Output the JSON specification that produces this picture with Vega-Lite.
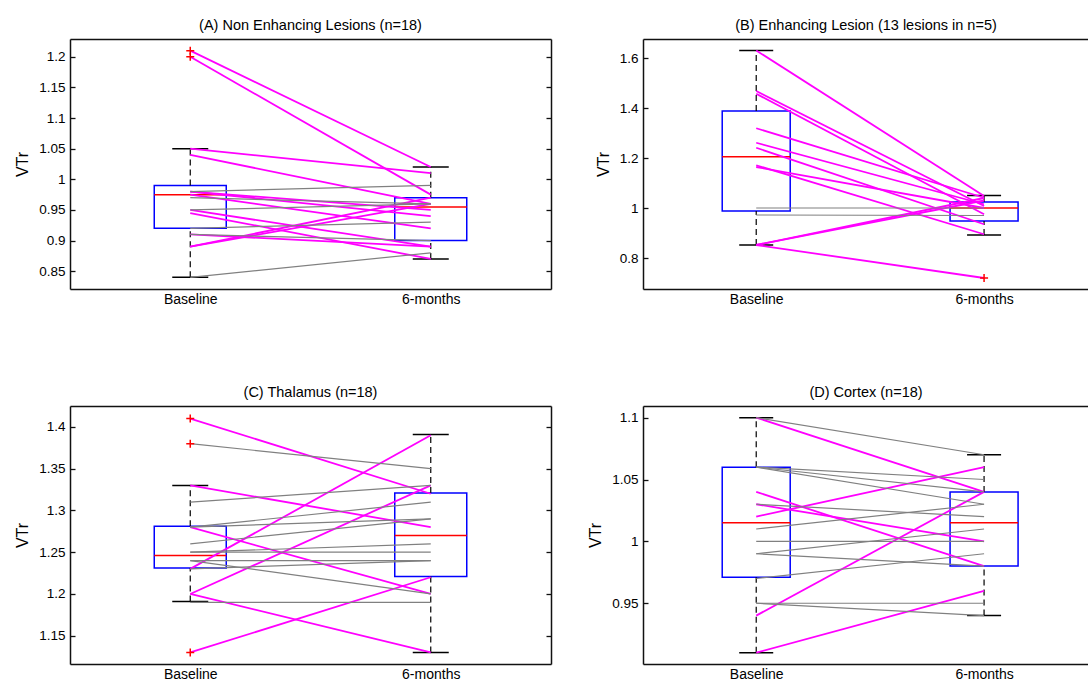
{
  "$schema": "https://vega.github.io/schema/vega-lite/v6.json",
  "background": "white",
  "padding": {"left": 14, "top": 17, "right": 0, "bottom": 0},
  "autosize": {"type": "pad"},
  "datasets": {
    "lines": [
      {"p":"A","id":1,"k":"c","Baseline":1.21,"6-months":1.02},
      {"p":"A","id":2,"k":"c","Baseline":1.20,"6-months":0.975},
      {"p":"A","id":3,"k":"c","Baseline":1.05,"6-months":1.01},
      {"p":"A","id":4,"k":"c","Baseline":1.04,"6-months":0.96},
      {"p":"A","id":5,"k":"c","Baseline":0.98,"6-months":0.95},
      {"p":"A","id":6,"k":"c","Baseline":0.98,"6-months":0.94},
      {"p":"A","id":7,"k":"c","Baseline":0.975,"6-months":0.92},
      {"p":"A","id":8,"k":"c","Baseline":0.95,"6-months":0.89},
      {"p":"A","id":9,"k":"c","Baseline":0.945,"6-months":0.87},
      {"p":"A","id":10,"k":"c","Baseline":0.91,"6-months":0.89},
      {"p":"A","id":11,"k":"c","Baseline":0.89,"6-months":0.97},
      {"p":"A","id":12,"k":"c","Baseline":0.89,"6-months":0.96},
      {"p":"A","id":13,"k":"s","Baseline":0.98,"6-months":0.99},
      {"p":"A","id":14,"k":"s","Baseline":0.97,"6-months":0.96},
      {"p":"A","id":15,"k":"s","Baseline":0.95,"6-months":0.96},
      {"p":"A","id":16,"k":"s","Baseline":0.92,"6-months":0.93},
      {"p":"A","id":17,"k":"s","Baseline":0.91,"6-months":0.90},
      {"p":"A","id":18,"k":"s","Baseline":0.84,"6-months":0.88},
      {"p":"B","id":1,"k":"c","Baseline":1.63,"6-months":1.048},
      {"p":"B","id":2,"k":"c","Baseline":1.468,"6-months":1.008},
      {"p":"B","id":3,"k":"c","Baseline":1.457,"6-months":0.975},
      {"p":"B","id":4,"k":"c","Baseline":1.319,"6-months":1.041},
      {"p":"B","id":5,"k":"c","Baseline":1.261,"6-months":1.015},
      {"p":"B","id":6,"k":"c","Baseline":1.241,"6-months":0.935},
      {"p":"B","id":7,"k":"c","Baseline":1.171,"6-months":0.895},
      {"p":"B","id":8,"k":"c","Baseline":1.164,"6-months":1.0},
      {"p":"B","id":9,"k":"c","Baseline":0.852,"6-months":1.03},
      {"p":"B","id":10,"k":"c","Baseline":0.852,"6-months":1.04},
      {"p":"B","id":11,"k":"c","Baseline":0.852,"6-months":0.72},
      {"p":"B","id":12,"k":"s","Baseline":1.0,"6-months":1.0},
      {"p":"B","id":13,"k":"s","Baseline":0.972,"6-months":0.97},
      {"p":"C","id":1,"k":"c","Baseline":1.41,"6-months":1.32},
      {"p":"C","id":2,"k":"c","Baseline":1.33,"6-months":1.28},
      {"p":"C","id":3,"k":"c","Baseline":1.28,"6-months":1.20},
      {"p":"C","id":4,"k":"c","Baseline":1.23,"6-months":1.39},
      {"p":"C","id":5,"k":"c","Baseline":1.20,"6-months":1.33},
      {"p":"C","id":6,"k":"c","Baseline":1.20,"6-months":1.13},
      {"p":"C","id":7,"k":"c","Baseline":1.13,"6-months":1.22},
      {"p":"C","id":8,"k":"s","Baseline":1.38,"6-months":1.35},
      {"p":"C","id":9,"k":"s","Baseline":1.31,"6-months":1.33},
      {"p":"C","id":10,"k":"s","Baseline":1.28,"6-months":1.31},
      {"p":"C","id":11,"k":"s","Baseline":1.28,"6-months":1.29},
      {"p":"C","id":12,"k":"s","Baseline":1.26,"6-months":1.29},
      {"p":"C","id":13,"k":"s","Baseline":1.25,"6-months":1.26},
      {"p":"C","id":14,"k":"s","Baseline":1.25,"6-months":1.25},
      {"p":"C","id":15,"k":"s","Baseline":1.24,"6-months":1.24},
      {"p":"C","id":16,"k":"s","Baseline":1.24,"6-months":1.20},
      {"p":"C","id":17,"k":"s","Baseline":1.23,"6-months":1.24},
      {"p":"C","id":18,"k":"s","Baseline":1.19,"6-months":1.19},
      {"p":"D","id":1,"k":"c","Baseline":1.10,"6-months":1.04},
      {"p":"D","id":2,"k":"c","Baseline":1.04,"6-months":0.98},
      {"p":"D","id":3,"k":"c","Baseline":1.03,"6-months":1.00},
      {"p":"D","id":4,"k":"c","Baseline":1.02,"6-months":1.06},
      {"p":"D","id":5,"k":"c","Baseline":0.94,"6-months":1.04},
      {"p":"D","id":6,"k":"c","Baseline":0.91,"6-months":0.96},
      {"p":"D","id":7,"k":"s","Baseline":1.10,"6-months":1.07},
      {"p":"D","id":8,"k":"s","Baseline":1.06,"6-months":1.05},
      {"p":"D","id":9,"k":"s","Baseline":1.06,"6-months":1.03},
      {"p":"D","id":10,"k":"s","Baseline":1.06,"6-months":1.04},
      {"p":"D","id":11,"k":"s","Baseline":1.03,"6-months":1.02},
      {"p":"D","id":12,"k":"s","Baseline":1.01,"6-months":1.03},
      {"p":"D","id":13,"k":"s","Baseline":1.00,"6-months":1.00},
      {"p":"D","id":14,"k":"s","Baseline":0.99,"6-months":1.01},
      {"p":"D","id":15,"k":"s","Baseline":0.99,"6-months":0.98},
      {"p":"D","id":16,"k":"s","Baseline":0.97,"6-months":0.99},
      {"p":"D","id":17,"k":"s","Baseline":0.95,"6-months":0.95},
      {"p":"D","id":18,"k":"s","Baseline":0.95,"6-months":0.94}
    ],
    "stats": [
      {"p":"A","time":"Baseline","q1":0.92,"med":0.975,"q3":0.99,"wlo":0.84,"whi":1.05},
      {"p":"A","time":"6-months","q1":0.90,"med":0.955,"q3":0.97,"wlo":0.87,"whi":1.02},
      {"p":"B","time":"Baseline","q1":0.988,"med":1.205,"q3":1.388,"wlo":0.852,"whi":1.63},
      {"p":"B","time":"6-months","q1":0.948,"med":1.0,"q3":1.024,"wlo":0.892,"whi":1.05},
      {"p":"C","time":"Baseline","q1":1.231,"med":1.246,"q3":1.281,"wlo":1.191,"whi":1.33},
      {"p":"C","time":"6-months","q1":1.221,"med":1.27,"q3":1.321,"wlo":1.13,"whi":1.391},
      {"p":"D","time":"Baseline","q1":0.971,"med":1.015,"q3":1.06,"wlo":0.91,"whi":1.10},
      {"p":"D","time":"6-months","q1":0.98,"med":1.015,"q3":1.04,"wlo":0.94,"whi":1.07}
    ],
    "outliers": [
      {"p":"A","time":"Baseline","v":1.21},
      {"p":"A","time":"Baseline","v":1.20},
      {"p":"B","time":"6-months","v":0.72},
      {"p":"C","time":"Baseline","v":1.41},
      {"p":"C","time":"Baseline","v":1.38},
      {"p":"C","time":"Baseline","v":1.13}
    ]
  },
  "columns": 2,
  "spacing": {"row": 117, "column": 92},
  "bounds": "flush",
  "concat": [
    {
      "width": 481, "height": 250,
      "title": {"text": "(A) Non Enhancing Lesions (n=18)"},
      "encoding": {"x": {"field": "time", "type": "ordinal", "scale": {"type": "point", "domain": ["Baseline","6-months"], "padding": 0.5}, "axis": null}},
      "layer": [
        {"data": {"name": "stats"}, "transform": [{"filter": "datum.p==='A'"}],
         "mark": {"type": "bar", "width": 72, "fill": "#ffffff", "fillOpacity": 0, "stroke": "#0000ff", "strokeWidth": 1.5},
         "encoding": {
           "x": {"field": "time", "type": "ordinal", "scale": {"type": "point", "domain": ["Baseline","6-months"], "padding": 0.5}, "axis": {"orient": "bottom", "ticks": false, "labelPadding": 3, "labelFontSize": 14, "labelAngle": 0, "title": null}},
           "y": {"field": "q1", "type": "quantitative", "scale": {"domain": [0.821, 1.229], "nice": false, "zero": false}, "axis": {"orient": "left", "values": [0.85,0.9,0.95,1,1.05,1.1,1.15,1.2], "format": ".3~f", "tickSize": -5, "labelPadding": 10, "labelFontSize": 13.5, "title": "VTr", "titleFontSize": 16, "titlePadding": 8}},
           "y2": {"field": "q3"}}},
        {"data": {"name": "stats"}, "transform": [{"filter": "datum.p==='A'"}],
         "mark": {"type": "rule", "color": "#000000", "strokeDash": [6,4], "strokeWidth": 1.2},
         "encoding": {
           "x": {"field": "time", "type": "ordinal", "scale": {"type": "point", "domain": ["Baseline","6-months"], "padding": 0.5}, "axis": {"orient": "top", "ticks": false, "labels": false, "title": null}},
           "y": {"field": "q3", "type": "quantitative", "scale": {"domain": [0.821, 1.229], "nice": false, "zero": false}, "axis": {"orient": "right", "values": [0.85,0.9,0.95,1,1.05,1.1,1.15,1.2], "labels": false, "tickSize": -5, "title": null}},
           "y2": {"field": "whi"}}},
        {"data": {"name": "stats"}, "transform": [{"filter": "datum.p==='A'"}],
         "mark": {"type": "rule", "color": "#000000", "strokeDash": [6,4], "strokeWidth": 1.2},
         "encoding": {
           "y": {"field": "wlo", "type": "quantitative", "scale": {"domain": [0.821, 1.229], "nice": false, "zero": false}, "axis": null},
           "y2": {"field": "q1"}}},
        {"data": {"name": "stats"}, "transform": [{"filter": "datum.p==='A'"}],
         "mark": {"type": "tick", "orient": "horizontal", "size": 36, "thickness": 1.5, "color": "#000000", "opacity": 1},
         "encoding": {"y": {"field": "whi", "type": "quantitative", "scale": {"domain": [0.821, 1.229], "nice": false, "zero": false}, "axis": null}}},
        {"data": {"name": "stats"}, "transform": [{"filter": "datum.p==='A'"}],
         "mark": {"type": "tick", "orient": "horizontal", "size": 36, "thickness": 1.5, "color": "#000000", "opacity": 1},
         "encoding": {"y": {"field": "wlo", "type": "quantitative", "scale": {"domain": [0.821, 1.229], "nice": false, "zero": false}, "axis": null}}},
        {"data": {"name": "stats"}, "transform": [{"filter": "datum.p==='A'"}],
         "mark": {"type": "tick", "orient": "horizontal", "size": 72, "thickness": 1.5, "color": "#ff0000", "opacity": 1},
         "encoding": {"y": {"field": "med", "type": "quantitative", "scale": {"domain": [0.821, 1.229], "nice": false, "zero": false}, "axis": null}}},
        {"data": {"name": "lines"}, "transform": [{"filter": "datum.p==='A'"}, {"fold": ["Baseline","6-months"], "as": ["time","value"]}],
         "mark": {"type": "line"},
         "encoding": {
           "y": {"field": "value", "type": "quantitative", "scale": {"domain": [0.821, 1.229], "nice": false, "zero": false}, "axis": null},
           "color": {"field": "k", "type": "nominal", "scale": {"domain": ["c","s"], "range": ["#ff00ff","#808080"]}, "legend": null},
           "strokeWidth": {"field": "k", "type": "nominal", "scale": {"domain": ["c","s"], "range": [1.8, 1.2]}, "legend": null},
           "detail": {"field": "id", "type": "nominal"}}},
        {"data": {"name": "outliers"}, "transform": [{"filter": "datum.p==='A'"}],
         "mark": {"type": "point", "shape": "M-1,0L1,0M0,-1L0,1", "size": 64, "filled": false, "color": "#ff0000", "strokeWidth": 1.5, "opacity": 1},
         "encoding": {"y": {"field": "v", "type": "quantitative", "scale": {"domain": [0.821, 1.229], "nice": false, "zero": false}, "axis": null}}}
      ],
      "resolve": {"axis": {"x": "independent", "y": "independent"}}
    },
    {
      "width": 446, "height": 250,
      "title": {"text": "(B) Enhancing Lesion (13 lesions in n=5)"},
      "encoding": {"x": {"field": "time", "type": "ordinal", "scale": {"type": "point", "domain": ["Baseline","6-months"], "padding": 0.4787, "align": 0.519}, "axis": null}},
      "layer": [
        {"data": {"name": "stats"}, "transform": [{"filter": "datum.p==='B'"}],
         "mark": {"type": "bar", "width": 68, "fill": "#ffffff", "fillOpacity": 0, "stroke": "#0000ff", "strokeWidth": 1.5},
         "encoding": {
           "x": {"field": "time", "type": "ordinal", "scale": {"type": "point", "domain": ["Baseline","6-months"], "padding": 0.4787, "align": 0.519}, "axis": {"orient": "bottom", "ticks": false, "labelPadding": 3, "labelFontSize": 14, "labelAngle": 0, "title": null}},
           "y": {"field": "q1", "type": "quantitative", "scale": {"domain": [0.676, 1.676], "nice": false, "zero": false}, "axis": {"orient": "left", "values": [0.8,1,1.2,1.4,1.6], "format": ".3~f", "tickSize": -5, "labelPadding": 10, "labelFontSize": 13.5, "title": "VTr", "titleFontSize": 16, "titlePadding": 8}},
           "y2": {"field": "q3"}}},
        {"data": {"name": "stats"}, "transform": [{"filter": "datum.p==='B'"}],
         "mark": {"type": "rule", "color": "#000000", "strokeDash": [6,4], "strokeWidth": 1.2},
         "encoding": {
           "x": {"field": "time", "type": "ordinal", "scale": {"type": "point", "domain": ["Baseline","6-months"], "padding": 0.4787, "align": 0.519}, "axis": {"orient": "top", "ticks": false, "labels": false, "title": null}},
           "y": {"field": "q3", "type": "quantitative", "scale": {"domain": [0.676, 1.676], "nice": false, "zero": false}, "axis": null},
           "y2": {"field": "whi"}}},
        {"data": {"name": "stats"}, "transform": [{"filter": "datum.p==='B'"}],
         "mark": {"type": "rule", "color": "#000000", "strokeDash": [6,4], "strokeWidth": 1.2},
         "encoding": {
           "y": {"field": "wlo", "type": "quantitative", "scale": {"domain": [0.676, 1.676], "nice": false, "zero": false}, "axis": null},
           "y2": {"field": "q1"}}},
        {"data": {"name": "stats"}, "transform": [{"filter": "datum.p==='B'"}],
         "mark": {"type": "tick", "orient": "horizontal", "size": 34, "thickness": 1.5, "color": "#000000", "opacity": 1},
         "encoding": {"y": {"field": "whi", "type": "quantitative", "scale": {"domain": [0.676, 1.676], "nice": false, "zero": false}, "axis": null}}},
        {"data": {"name": "stats"}, "transform": [{"filter": "datum.p==='B'"}],
         "mark": {"type": "tick", "orient": "horizontal", "size": 34, "thickness": 1.5, "color": "#000000", "opacity": 1},
         "encoding": {"y": {"field": "wlo", "type": "quantitative", "scale": {"domain": [0.676, 1.676], "nice": false, "zero": false}, "axis": null}}},
        {"data": {"name": "stats"}, "transform": [{"filter": "datum.p==='B'"}],
         "mark": {"type": "tick", "orient": "horizontal", "size": 68, "thickness": 1.5, "color": "#ff0000", "opacity": 1},
         "encoding": {"y": {"field": "med", "type": "quantitative", "scale": {"domain": [0.676, 1.676], "nice": false, "zero": false}, "axis": null}}},
        {"data": {"name": "lines"}, "transform": [{"filter": "datum.p==='B'"}, {"fold": ["Baseline","6-months"], "as": ["time","value"]}],
         "mark": {"type": "line"},
         "encoding": {
           "y": {"field": "value", "type": "quantitative", "scale": {"domain": [0.676, 1.676], "nice": false, "zero": false}, "axis": null},
           "color": {"field": "k", "type": "nominal", "scale": {"domain": ["c","s"], "range": ["#ff00ff","#808080"]}, "legend": null},
           "strokeWidth": {"field": "k", "type": "nominal", "scale": {"domain": ["c","s"], "range": [1.8, 1.2]}, "legend": null},
           "detail": {"field": "id", "type": "nominal"}}},
        {"data": {"name": "outliers"}, "transform": [{"filter": "datum.p==='B'"}],
         "mark": {"type": "point", "shape": "M-1,0L1,0M0,-1L0,1", "size": 64, "filled": false, "color": "#ff0000", "strokeWidth": 1.5, "opacity": 1},
         "encoding": {"y": {"field": "v", "type": "quantitative", "scale": {"domain": [0.676, 1.676], "nice": false, "zero": false}, "axis": null}}}
      ],
      "resolve": {"axis": {"x": "independent", "y": "independent"}}
    },
    {
      "width": 481, "height": 258,
      "title": {"text": "(C) Thalamus (n=18)"},
      "encoding": {"x": {"field": "time", "type": "ordinal", "scale": {"type": "point", "domain": ["Baseline","6-months"], "padding": 0.5}, "axis": null}},
      "layer": [
        {"data": {"name": "stats"}, "transform": [{"filter": "datum.p==='C'"}],
         "mark": {"type": "bar", "width": 72, "fill": "#ffffff", "fillOpacity": 0, "stroke": "#0000ff", "strokeWidth": 1.5},
         "encoding": {
           "x": {"field": "time", "type": "ordinal", "scale": {"type": "point", "domain": ["Baseline","6-months"], "padding": 0.5}, "axis": {"orient": "bottom", "ticks": false, "labelPadding": 3, "labelFontSize": 14, "labelAngle": 0, "title": null}},
           "y": {"field": "q1", "type": "quantitative", "scale": {"domain": [1.1161, 1.4251], "nice": false, "zero": false}, "axis": {"orient": "left", "values": [1.15,1.2,1.25,1.3,1.35,1.4], "format": ".3~f", "tickSize": -5, "labelPadding": 10, "labelFontSize": 13.5, "title": "VTr", "titleFontSize": 16, "titlePadding": 8}},
           "y2": {"field": "q3"}}},
        {"data": {"name": "stats"}, "transform": [{"filter": "datum.p==='C'"}],
         "mark": {"type": "rule", "color": "#000000", "strokeDash": [6,4], "strokeWidth": 1.2},
         "encoding": {
           "x": {"field": "time", "type": "ordinal", "scale": {"type": "point", "domain": ["Baseline","6-months"], "padding": 0.5}, "axis": {"orient": "top", "ticks": false, "labels": false, "title": null}},
           "y": {"field": "q3", "type": "quantitative", "scale": {"domain": [1.1161, 1.4251], "nice": false, "zero": false}, "axis": {"orient": "right", "values": [1.15,1.2,1.25,1.3,1.35,1.4], "labels": false, "tickSize": -5, "title": null}},
           "y2": {"field": "whi"}}},
        {"data": {"name": "stats"}, "transform": [{"filter": "datum.p==='C'"}],
         "mark": {"type": "rule", "color": "#000000", "strokeDash": [6,4], "strokeWidth": 1.2},
         "encoding": {
           "y": {"field": "wlo", "type": "quantitative", "scale": {"domain": [1.1161, 1.4251], "nice": false, "zero": false}, "axis": null},
           "y2": {"field": "q1"}}},
        {"data": {"name": "stats"}, "transform": [{"filter": "datum.p==='C'"}],
         "mark": {"type": "tick", "orient": "horizontal", "size": 36, "thickness": 1.5, "color": "#000000", "opacity": 1},
         "encoding": {"y": {"field": "whi", "type": "quantitative", "scale": {"domain": [1.1161, 1.4251], "nice": false, "zero": false}, "axis": null}}},
        {"data": {"name": "stats"}, "transform": [{"filter": "datum.p==='C'"}],
         "mark": {"type": "tick", "orient": "horizontal", "size": 36, "thickness": 1.5, "color": "#000000", "opacity": 1},
         "encoding": {"y": {"field": "wlo", "type": "quantitative", "scale": {"domain": [1.1161, 1.4251], "nice": false, "zero": false}, "axis": null}}},
        {"data": {"name": "stats"}, "transform": [{"filter": "datum.p==='C'"}],
         "mark": {"type": "tick", "orient": "horizontal", "size": 72, "thickness": 1.5, "color": "#ff0000", "opacity": 1},
         "encoding": {"y": {"field": "med", "type": "quantitative", "scale": {"domain": [1.1161, 1.4251], "nice": false, "zero": false}, "axis": null}}},
        {"data": {"name": "lines"}, "transform": [{"filter": "datum.p==='C'"}, {"fold": ["Baseline","6-months"], "as": ["time","value"]}],
         "mark": {"type": "line"},
         "encoding": {
           "y": {"field": "value", "type": "quantitative", "scale": {"domain": [1.1161, 1.4251], "nice": false, "zero": false}, "axis": null},
           "color": {"field": "k", "type": "nominal", "scale": {"domain": ["c","s"], "range": ["#ff00ff","#808080"]}, "legend": null},
           "strokeWidth": {"field": "k", "type": "nominal", "scale": {"domain": ["c","s"], "range": [1.8, 1.2]}, "legend": null},
           "detail": {"field": "id", "type": "nominal"}}},
        {"data": {"name": "outliers"}, "transform": [{"filter": "datum.p==='C'"}],
         "mark": {"type": "point", "shape": "M-1,0L1,0M0,-1L0,1", "size": 64, "filled": false, "color": "#ff0000", "strokeWidth": 1.5, "opacity": 1},
         "encoding": {"y": {"field": "v", "type": "quantitative", "scale": {"domain": [1.1161, 1.4251], "nice": false, "zero": false}, "axis": null}}}
      ],
      "resolve": {"axis": {"x": "independent", "y": "independent"}}
    },
    {
      "width": 446, "height": 258,
      "title": {"text": "(D) Cortex (n=18)"},
      "encoding": {"x": {"field": "time", "type": "ordinal", "scale": {"type": "point", "domain": ["Baseline","6-months"], "padding": 0.4787, "align": 0.519}, "axis": null}},
      "layer": [
        {"data": {"name": "stats"}, "transform": [{"filter": "datum.p==='D'"}],
         "mark": {"type": "bar", "width": 68, "fill": "#ffffff", "fillOpacity": 0, "stroke": "#0000ff", "strokeWidth": 1.5},
         "encoding": {
           "x": {"field": "time", "type": "ordinal", "scale": {"type": "point", "domain": ["Baseline","6-months"], "padding": 0.4787, "align": 0.519}, "axis": {"orient": "bottom", "ticks": false, "labelPadding": 3, "labelFontSize": 14, "labelAngle": 0, "title": null}},
           "y": {"field": "q1", "type": "quantitative", "scale": {"domain": [0.9009, 1.1094], "nice": false, "zero": false}, "axis": {"orient": "left", "values": [0.95,1,1.05,1.1], "format": ".3~f", "tickSize": -5, "labelPadding": 10, "labelFontSize": 13.5, "title": "VTr", "titleFontSize": 16, "titlePadding": 8}},
           "y2": {"field": "q3"}}},
        {"data": {"name": "stats"}, "transform": [{"filter": "datum.p==='D'"}],
         "mark": {"type": "rule", "color": "#000000", "strokeDash": [6,4], "strokeWidth": 1.2},
         "encoding": {
           "x": {"field": "time", "type": "ordinal", "scale": {"type": "point", "domain": ["Baseline","6-months"], "padding": 0.4787, "align": 0.519}, "axis": {"orient": "top", "ticks": false, "labels": false, "title": null}},
           "y": {"field": "q3", "type": "quantitative", "scale": {"domain": [0.9009, 1.1094], "nice": false, "zero": false}, "axis": null},
           "y2": {"field": "whi"}}},
        {"data": {"name": "stats"}, "transform": [{"filter": "datum.p==='D'"}],
         "mark": {"type": "rule", "color": "#000000", "strokeDash": [6,4], "strokeWidth": 1.2},
         "encoding": {
           "y": {"field": "wlo", "type": "quantitative", "scale": {"domain": [0.9009, 1.1094], "nice": false, "zero": false}, "axis": null},
           "y2": {"field": "q1"}}},
        {"data": {"name": "stats"}, "transform": [{"filter": "datum.p==='D'"}],
         "mark": {"type": "tick", "orient": "horizontal", "size": 34, "thickness": 1.5, "color": "#000000", "opacity": 1},
         "encoding": {"y": {"field": "whi", "type": "quantitative", "scale": {"domain": [0.9009, 1.1094], "nice": false, "zero": false}, "axis": null}}},
        {"data": {"name": "stats"}, "transform": [{"filter": "datum.p==='D'"}],
         "mark": {"type": "tick", "orient": "horizontal", "size": 34, "thickness": 1.5, "color": "#000000", "opacity": 1},
         "encoding": {"y": {"field": "wlo", "type": "quantitative", "scale": {"domain": [0.9009, 1.1094], "nice": false, "zero": false}, "axis": null}}},
        {"data": {"name": "stats"}, "transform": [{"filter": "datum.p==='D'"}],
         "mark": {"type": "tick", "orient": "horizontal", "size": 68, "thickness": 1.5, "color": "#ff0000", "opacity": 1},
         "encoding": {"y": {"field": "med", "type": "quantitative", "scale": {"domain": [0.9009, 1.1094], "nice": false, "zero": false}, "axis": null}}},
        {"data": {"name": "lines"}, "transform": [{"filter": "datum.p==='D'"}, {"fold": ["Baseline","6-months"], "as": ["time","value"]}],
         "mark": {"type": "line"},
         "encoding": {
           "y": {"field": "value", "type": "quantitative", "scale": {"domain": [0.9009, 1.1094], "nice": false, "zero": false}, "axis": null},
           "color": {"field": "k", "type": "nominal", "scale": {"domain": ["c","s"], "range": ["#ff00ff","#808080"]}, "legend": null},
           "strokeWidth": {"field": "k", "type": "nominal", "scale": {"domain": ["c","s"], "range": [1.8, 1.2]}, "legend": null},
           "detail": {"field": "id", "type": "nominal"}}}
      ],
      "resolve": {"axis": {"x": "independent", "y": "independent"}}
    }
  ],
  "config": {
    "view": {"stroke": null},
    "font": "Liberation Sans",
    "title": {"fontSize": 14.5, "fontWeight": "normal", "color": "#000000", "anchor": "middle", "offset": 6, "font": "Liberation Sans"},
    "axis": {"grid": false, "domainColor": "#111111", "domainWidth": 1.5, "tickColor": "#111111", "tickWidth": 1.3, "labelColor": "#000000", "labelFont": "Liberation Sans", "titleFont": "Liberation Sans", "titleColor": "#000000", "titleFontWeight": "normal"}
  }
}
